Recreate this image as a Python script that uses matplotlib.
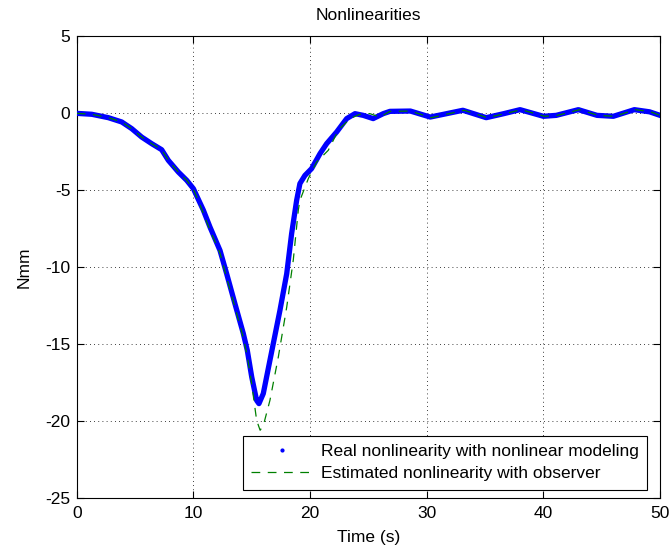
import matplotlib
matplotlib.use("Agg")
import matplotlib.pyplot as plt
from matplotlib.lines import Line2D

plt.rcParams['font.family'] = ['Liberation Sans', 'DejaVu Sans']
plt.rcParams['axes.unicode_minus'] = False

# blue: real nonlinearity
t_real = [0, 1.29, 2.71, 3.86, 4.71, 5.57, 6.43, 7.28, 7.85, 8.71, 9.43, 10.0, 10.42,
          10.85, 11.42, 12.28, 12.85, 13.56, 14.28, 14.62, 15.0, 15.42, 15.62, 15.99,
          16.56, 17.42, 18.0, 18.42, 18.85, 19.13, 19.56, 20.13, 20.85, 21.42, 22.28,
          23.14, 23.85, 24.56, 25.41, 26.27, 26.85, 28.6, 30.3, 33.1, 35.1, 36.6,
          38.0, 40.0, 41.1, 43.0, 44.6, 46.0, 47.8, 49.1, 50.0]
f_real = [-0.02, -0.08, -0.3, -0.58, -1.01, -1.56, -1.99, -2.38, -3.07, -3.83, -4.37,
          -4.91, -5.6, -6.3, -7.4, -8.92, -10.43, -12.38, -14.32, -15.41, -17.14, -18.66,
          -18.87, -18.22, -16.06, -12.81, -10.43, -7.83, -5.67, -4.58, -4.05, -3.61,
          -2.64, -1.99, -1.23, -0.36, -0.04, -0.15, -0.36, -0.04, 0.11, 0.13, -0.26,
          0.18, -0.3, -0.04, 0.22, -0.21, -0.15, 0.22, -0.15, -0.21, 0.22, 0.08, -0.15]

# green: estimated nonlinearity with observer
t_est = [0, 1.29, 2.71, 3.86, 4.71, 5.57, 6.43, 7.28, 7.85, 8.71, 9.43, 10.0, 10.42,
         11.42, 12.28, 12.85, 13.56, 14.28, 14.62, 15.0, 15.42, 15.72, 16.0, 16.56,
         17.28, 18.0, 18.56, 18.99, 19.13, 19.85, 20.56, 21.56, 22.42, 23.42, 24.28,
         25.13, 25.99, 26.85, 28.6, 30.4, 33.2, 35.2, 36.7, 38.1, 40.1, 41.2, 43.1,
         44.7, 46.1, 47.9, 49.2, 50.0]
f_est = [-0.02, -0.08, -0.3, -0.58, -1.01, -1.56, -1.99, -2.38, -3.07, -3.83, -4.37,
         -4.95, -5.7, -7.6, -9.1, -10.7, -12.6, -14.6, -15.8, -17.6, -19.95, -20.6,
         -20.28, -18.66, -15.84, -12.6, -9.56, -6.32, -5.67, -4.26, -3.18, -2.42,
         -1.12, -0.36, -0.08, -0.04, -0.26, 0.11, 0.13, -0.3, 0.18, -0.3, -0.04, 0.22,
         -0.21, -0.15, 0.22, -0.15, -0.21, 0.22, 0.08, -0.15]

fig = plt.figure(figsize=(6.69, 5.48), dpi=100)
ax = fig.add_axes([0.1147, 0.0912, 0.8719, 0.843])

ax.plot(t_real, f_real, color='blue', lw=3.8, solid_joinstyle='round', zorder=3)
ax.plot(t_est, f_est, color='#008000', lw=0.9, ls=(0, (7, 6)), zorder=4)

fs = 12.5
ax.set_xlim(0, 50)
ax.set_ylim(-25, 5)
ax.set_xticks(range(0, 51, 10))
ax.set_yticks(range(-25, 6, 5))
ax.grid(True, color='black', ls=(0, (1, 4)), lw=0.6)
ax.tick_params(direction='in', top=True, right=True, length=5, labelsize=fs)
ax.tick_params(axis='y', pad=4.5)
ax.tick_params(axis='x', pad=6)
for s in ax.spines.values():
    s.set_linewidth(0.8)

ax.set_title('Nonlinearities', fontsize=fs, pad=11.5)
ax.set_xlabel('Time (s)', fontsize=fs, labelpad=6)
ax.set_ylabel('Nmm', fontsize=fs, labelpad=10)

handles = [Line2D([], [], ls='none', marker='.', color='blue', ms=4),
           Line2D([], [], color='#008000', lw=0.9, ls=(0, (7, 6)))]
labels = ['Real nonlinearity with nonlinear modeling',
          'Estimated nonlinearity with observer']
leg = ax.legend(handles, labels, loc='lower right', bbox_to_anchor=(0.978, 0.017),
                fontsize=fs, fancybox=False, framealpha=1, edgecolor='black',
                borderaxespad=0, borderpad=0.5, handlelength=3.5,
                handletextpad=0.5, labelspacing=0.4)
leg.get_frame().set_linewidth(0.8)

fig.savefig('out.png', dpi=100)
